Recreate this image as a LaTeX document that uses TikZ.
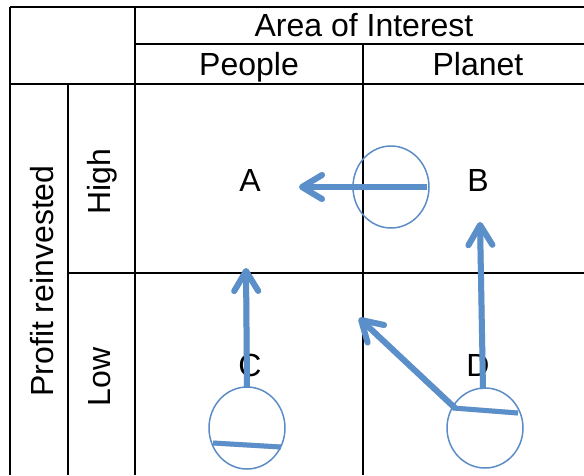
\documentclass[tikz,border=0pt]{standalone}
\usepackage{fontspec}
\setmainfont{Liberation Sans}
\usetikzlibrary{arrows.meta,shapes.geometric}
\definecolor{arrblue}{RGB}{91,143,201}
\definecolor{circblue}{RGB}{92,140,200}
\tikzset{
  grid/.style={line width=2pt,black},
  lbl/.style={font=\fontsize{32}{32}\selectfont,anchor=base,inner sep=0pt},
  rlbl/.style={lbl,rotate=90},
  ring/.style={draw=circblue,line width=1.5pt,ellipse,inner sep=0pt},
  bar/.style={draw=arrblue,line width=5pt},
  shadowline/.style={draw=black,opacity=0.18,line width=6pt},
  arr/.style={draw=arrblue,line width=6pt,-{Straight Barb[length=20pt,width=24pt,round]}},
  arrshadow/.style={draw=black,opacity=0.15,line width=6pt,-{Straight Barb[length=20pt,width=24pt,round]}}
}
\begin{document}
\begin{tikzpicture}[x=1pt,y=-1pt]
\useasboundingbox (0,0) rectangle (584,475);
% grid
\draw[grid] (10,7) -- (584,7);
\draw[grid] (10,7) -- (10,475);
\draw[grid] (135,7) -- (135,475);
\draw[grid] (135,44) -- (584,44);
\draw[grid] (10,84) -- (584,84);
\draw[grid] (363,44) -- (363,475);
\draw[grid] (68,84) -- (68,475);
\draw[grid] (68,273) -- (584,273);
% labels
\node[lbl] (aoi) at (364,36) {Area of Interest};
\node[lbl] (people) at (249,75) {People};
\node[lbl] (planet) at (478,75) {Planet};
\node[rlbl] (profit) at (53,281) {Profit reinvested};
\node[rlbl] (high) at (110,182) {High};
\node[rlbl] (low) at (110,377) {Low};
\node[lbl] (A) at (250,191) {A};
\node[lbl] (B) at (478,191) {B};
\node[lbl] (C) at (250,376) {C};
\node[lbl] (D) at (478,376) {D};
% circles
\node[ring,minimum width=76pt,minimum height=82pt] (c1) at (391,187) {};
\node[ring,minimum width=76pt,minimum height=82pt] (cC) at (247,428) {};
\node[ring,minimum width=76pt,minimum height=80pt] (cD) at (485,428) {};
% coordinates
\coordinate (s1) at (427,187);
\coordinate (t1) at (299,187);
\coordinate (sC) at (247,387);
\coordinate (tC) at (246,268);
\coordinate (sB) at (483,389);
\coordinate (tB) at (480,222);
\coordinate (sD) at (455,408);
\coordinate (tD) at (359,318);
\coordinate (bC1) at (213,443);
\coordinate (bC2) at (281,447);
\coordinate (bD1) at (453,408);
\coordinate (bD2) at (518,413);
% shadows
\begin{scope}[shift={(1.5,2.5)}]
\draw[arrshadow] (s1) -- (t1);
\draw[arrshadow] (sC) -- (tC);
\draw[arrshadow] (sB) -- (tB);
\draw[arrshadow] (sD) -- (tD);
\draw[shadowline,line width=5pt] (bC1) -- (bC2);
\draw[shadowline,line width=5pt] (bD1) -- (bD2);
\end{scope}
% bars and arrows
\draw[bar] (bC1) -- (bC2);
\draw[bar] (bD1) -- (bD2);
\draw[arr] (s1) -- (t1);
\draw[arr] (sC) -- (tC);
\draw[arr] (sB) -- (tB);
\draw[arr] (sD) -- (tD);
\end{tikzpicture}
\end{document}
